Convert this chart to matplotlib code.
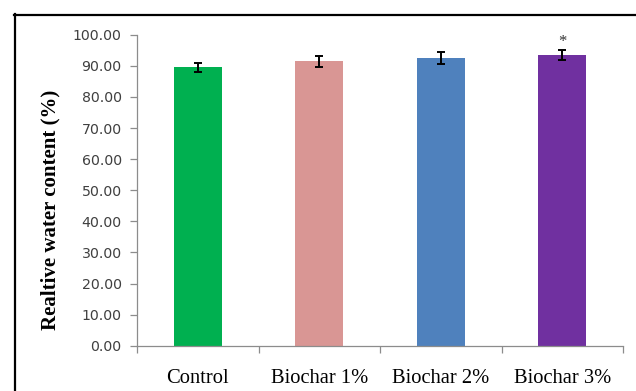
import matplotlib
matplotlib.use("Agg")
import matplotlib.pyplot as plt
from matplotlib.lines import Line2D
import numpy as np

# Relative water content by treatment
categories = ["Control", "Biochar 1%", "Biochar 2%", "Biochar 3%"]
rwc_mean = [89.5, 91.4, 92.6, 93.5]
rwc_err = [1.4, 1.8, 1.9, 1.6]
significance = ["", "", "", "*"]
bar_colors = ["#00B050", "#D99694", "#4F81BD", "#7030A0"]
y_ticks = [0, 10, 20, 30, 40, 50, 60, 70, 80, 90, 100]

W, H = 636, 391
fig = plt.figure(figsize=(W / 100, H / 100), dpi=100)
fig.patch.set_facecolor("white")

ax_left, ax_right = 137, 623
ax_top, ax_bottom = 34.7, 345.7
ax = fig.add_axes([ax_left / W, 1 - ax_bottom / H,
                   (ax_right - ax_left) / W, (ax_bottom - ax_top) / H])

x = np.arange(len(categories))
ax.bar(x, rwc_mean, width=0.395, color=bar_colors, edgecolor="none", zorder=2)
ax.errorbar(x, rwc_mean, yerr=rwc_err, fmt="none", ecolor="black",
            elinewidth=1.4, capsize=3.2, capthick=1.4, zorder=3)

for xi, m, e, s in zip(x, rwc_mean, rwc_err, significance):
    if s:
        ax.annotate(s, xy=(xi, m + e), xytext=(0, 0), textcoords="offset points",
                    ha="center", va="bottom", fontsize=12,
                    family="Liberation Serif", color="#333333")

ax.set_xlim(-0.5, len(categories) - 0.5)
ax.set_ylim(0, 100)
ax.set_yticks(y_ticks)
ax.set_yticklabels([f"{v:.2f}" for v in y_ticks])

ax.set_xticks(x)
ax.set_xticklabels(categories, family="Liberation Serif", fontsize=14.8, color="black")
ax.set_xticks(np.arange(-0.5, len(categories)), minor=True)
ax.tick_params(axis="x", which="major", length=0, pad=17)
ax.tick_params(axis="x", which="minor", length=5, width=0.9, color="#8c8c8c", direction="out")
ax.tick_params(axis="y", length=5, width=0.9, color="#8c8c8c", direction="out",
               labelsize=10.2, labelcolor="#404040", pad=6)
for lab in ax.get_yticklabels():
    lab.set_family("DejaVu Sans")

for side in ("top", "right"):
    ax.spines[side].set_visible(False)
for side in ("left", "bottom"):
    ax.spines[side].set_color("#8c8c8c")
    ax.spines[side].set_linewidth(0.9)

ax.set_ylabel("Realtive water content (%)", family="Liberation Serif",
              fontweight="bold", fontsize=15, va="center")
ax.yaxis.set_label_coords(-0.177, 0.437)

# Surrounding frame (top and left edges)
fig.add_artist(Line2D([14 / W, 1.0], [1 - 15 / H, 1 - 15 / H],
                      transform=fig.transFigure, color="black", lw=1.6))
fig.add_artist(Line2D([15 / W, 15 / W], [0.0, 1 - 14 / H],
                      transform=fig.transFigure, color="black", lw=1.6))

fig.savefig("out.png", dpi=100, facecolor="white")
